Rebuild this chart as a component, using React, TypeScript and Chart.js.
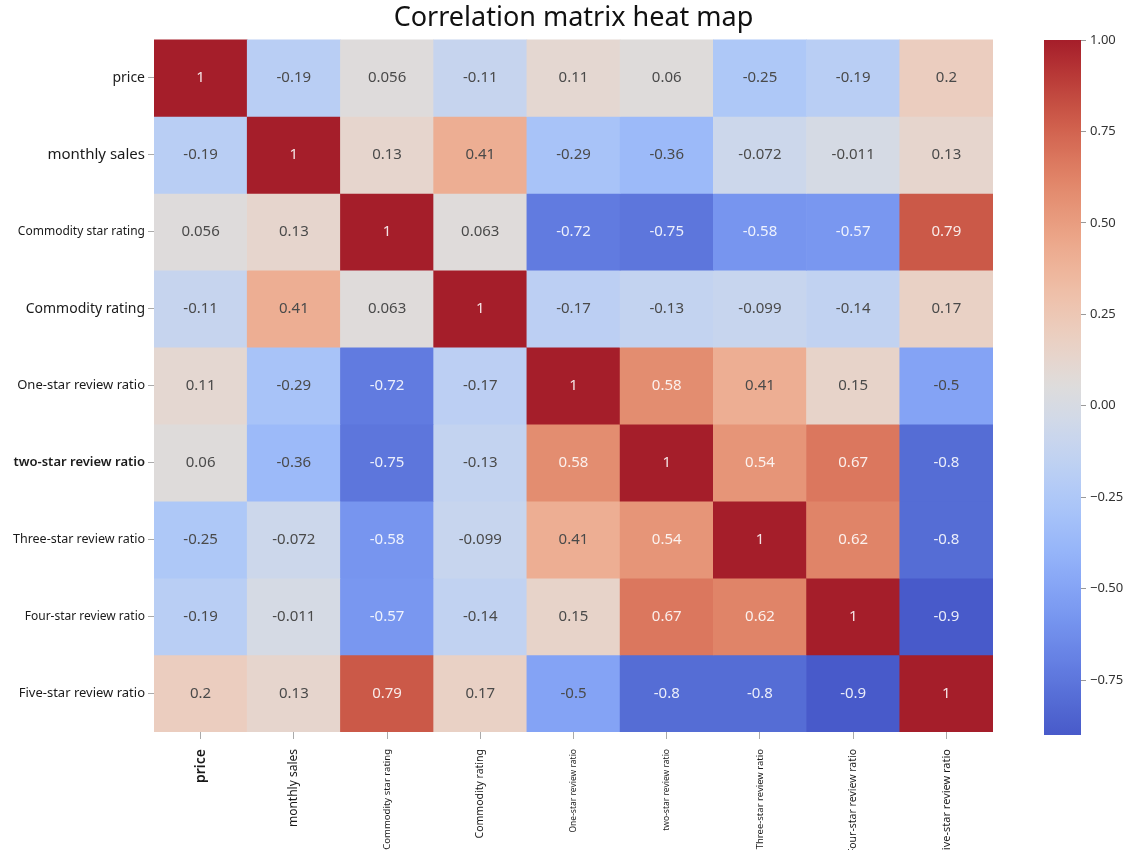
import React, { useEffect, useRef } from "react";
import { Chart, registerables } from "chart.js";

Chart.register(...registerables);

const TITLE = "Correlation matrix heat map";

const VARIABLES = [
  "price",
  "monthly sales",
  "Commodity star rating",
  "Commodity rating",
  "One-star review ratio",
  "two-star review ratio",
  "Three-star review ratio",
  "Four-star review ratio",
  "Five-star review ratio",
];

const ROW_PRICE = [1, -0.19, 0.056, -0.11, 0.11, 0.06, -0.25, -0.19, 0.2];
const ROW_MONTHLY_SALES = [-0.19, 1, 0.13, 0.41, -0.29, -0.36, -0.072, -0.011, 0.13];
const ROW_STAR_RATING = [0.056, 0.13, 1, 0.063, -0.72, -0.75, -0.58, -0.57, 0.79];
const ROW_RATING = [-0.11, 0.41, 0.063, 1, -0.17, -0.13, -0.099, -0.14, 0.17];
const ROW_ONE_STAR = [0.11, -0.29, -0.72, -0.17, 1, 0.58, 0.41, 0.15, -0.5];
const ROW_TWO_STAR = [0.06, -0.36, -0.75, -0.13, 0.58, 1, 0.54, 0.67, -0.8];
const ROW_THREE_STAR = [-0.25, -0.072, -0.58, -0.099, 0.41, 0.54, 1, 0.62, -0.8];
const ROW_FOUR_STAR = [-0.19, -0.011, -0.57, -0.14, 0.15, 0.67, 0.62, 1, -0.9];
const ROW_FIVE_STAR = [0.2, 0.13, 0.79, 0.17, -0.5, -0.8, -0.8, -0.9, 1];

const MATRIX = [
  ROW_PRICE,
  ROW_MONTHLY_SALES,
  ROW_STAR_RATING,
  ROW_RATING,
  ROW_ONE_STAR,
  ROW_TWO_STAR,
  ROW_THREE_STAR,
  ROW_FOUR_STAR,
  ROW_FIVE_STAR,
];

const COLORBAR_TICKS = [-0.75, -0.5, -0.25, 0, 0.25, 0.5, 0.75, 1.0];
const V_MIN = -0.9;
const V_MAX = 1.0;

// style settings (not data)
const FONT = '"Noto Sans", "Open Sans", sans-serif';
const Y_LABEL_SIZES = [14, 15, 12, 14, 13, 13, 12.5, 12, 13];
const X_LABEL_SIZES = [14, 12, 9.5, 10.5, 8.5, 8.5, 9.5, 10.5, 11];

// coolwarm-like palette, slightly muted as in the reference picture
const PALETTE = [
  [72, 90, 202], [80, 101, 208], [88, 112, 216], [97, 123, 224], [106, 134, 231],
  [115, 145, 237], [125, 156, 242], [135, 166, 246], [145, 176, 248], [155, 185, 249],
  [165, 193, 249], [175, 200, 247], [185, 206, 244], [195, 211, 240], [204, 215, 235],
  [213, 218, 228], [221, 220, 220], [228, 215, 209], [233, 209, 197], [236, 202, 185],
  [238, 194, 173], [238, 185, 160], [237, 175, 148], [235, 164, 135], [231, 152, 123],
  [227, 140, 111], [222, 126, 99], [215, 111, 88], [208, 96, 77], [198, 80, 67],
  [188, 63, 58], [177, 46, 50], [165, 30, 42],
];

function cmap(t: number): string {
  const tt = Math.max(0, Math.min(1, t));
  const p = tt * (PALETTE.length - 1);
  const i = Math.min(Math.floor(p), PALETTE.length - 2);
  const f = p - i;
  const a = PALETTE[i];
  const b = PALETTE[i + 1];
  const c = a.map((x, k) => Math.round(x + (b[k] - x) * f));
  return `rgb(${c[0]},${c[1]},${c[2]})`;
}

function colorOf(v: number): string {
  return cmap((v - V_MIN) / (V_MAX - V_MIN));
}

function fmt(v: number): string {
  return String(parseFloat(v.toPrecision(2)));
}

const annotatePlugin = {
  id: "annotateCells",
  afterDatasetsDraw(chart: any) {
    const ctx = chart.ctx;
    ctx.save();
    ctx.font = `15px ${FONT}`;
    ctx.textAlign = "center";
    ctx.textBaseline = "middle";
    MATRIX.forEach((row, r) => {
      const meta = chart.getDatasetMeta(r);
      row.forEach((v, c) => {
        const el = meta.data[c];
        if (!el) return;
        const cy = (el.y + el.base) / 2;
        ctx.fillStyle = Math.abs(v) >= 0.52 ? "rgba(255,255,255,0.88)" : "#4a4a4a";
        ctx.fillText(fmt(v), el.x, cy);
      });
    });
    ctx.restore();
  },
};

export default function App() {
  const mainRef = useRef<HTMLCanvasElement | null>(null);
  const barRef = useRef<HTMLCanvasElement | null>(null);

  useEffect(() => {
    const main = new Chart(mainRef.current as HTMLCanvasElement, {
      type: "bar",
      data: {
        labels: VARIABLES,
        datasets: MATRIX.map((row, r) => ({
          label: VARIABLES[r],
          data: row.map(() => 1),
          backgroundColor: row.map((v) => colorOf(v)),
          borderWidth: 0,
          barPercentage: 1,
          categoryPercentage: 1,
          stack: "cells",
        })),
      },
      options: {
        animation: false,
        responsive: false,
        devicePixelRatio: 1,
        layout: { padding: { left: 0, right: 145, top: 0, bottom: 0 } },
        plugins: {
          legend: { display: false },
          tooltip: { enabled: false },
          title: {
            display: true,
            text: TITLE,
            fullSize: false,
            color: "#111",
            font: { family: FONT, size: 27, weight: "normal" },
            padding: { top: 2, bottom: 5 },
          },
        },
        scales: {
          x: {
            type: "category",
            stacked: true,
            afterFit: (s: any) => {
              s.height = 118;
            },
            ticks: {
              maxRotation: 90,
              minRotation: 90,
              autoSkip: false,
              padding: 10,
              color: "#1a1a1a",
              font: (c: any) => ({
                family: FONT,
                size: X_LABEL_SIZES[c.index] || 10,
                weight: c.index === 0 ? "600" : "normal",
              }),
            },
            grid: { drawOnChartArea: false, offset: false, tickLength: 7, color: "#aaa" },
            border: { display: false },
          },
          y: {
            type: "linear",
            stacked: true,
            reverse: true,
            min: 0,
            max: VARIABLES.length,
            afterBuildTicks: (s: any) => {
              s.ticks = VARIABLES.map((_, i) => ({ value: i + 0.5 }));
            },
            afterFit: (s: any) => {
              s.width = 154;
            },
            ticks: {
              autoSkip: false,
              padding: 3,
              color: "#1a1a1a",
              callback: (_v: any, i: number) => VARIABLES[i],
              font: (c: any) => ({
                family: FONT,
                size: Y_LABEL_SIZES[c.index] || 13,
                weight: c.index === 5 ? "600" : "normal",
              }),
            },
            grid: { drawOnChartArea: false, tickLength: 6, color: "#aaa" },
            border: { display: false },
          },
        },
      },
      plugins: [annotatePlugin],
    } as any);

    const bar = new Chart(barRef.current as HTMLCanvasElement, {
      type: "bar",
      data: {
        labels: ["colorbar"],
        datasets: [
          {
            data: [[V_MIN, V_MAX]],
            borderWidth: 0,
            barPercentage: 1,
            categoryPercentage: 1,
            backgroundColor: (c: any) => {
              const area = c.chart.chartArea;
              if (!area) return colorOf(0);
              const g = c.chart.ctx.createLinearGradient(0, area.bottom, 0, area.top);
              const n = 64;
              for (let i = 0; i <= n; i++) g.addColorStop(i / n, cmap(i / n));
              return g;
            },
          },
        ],
      },
      options: {
        animation: false,
        responsive: false,
        devicePixelRatio: 1,
        layout: { padding: { left: 44, right: 0, top: 40, bottom: 115 } },
        plugins: { legend: { display: false }, tooltip: { enabled: false } },
        scales: {
          x: { display: false },
          y: {
            position: "right",
            min: V_MIN,
            max: V_MAX,
            afterBuildTicks: (s: any) => {
              s.ticks = COLORBAR_TICKS.map((v) => ({ value: v }));
            },
            afterFit: (s: any) => {
              s.width = 57;
            },
            ticks: {
              padding: 4,
              color: "#333",
              font: { family: FONT, size: 13 },
              callback: (v: any) => Number(v).toFixed(2).replace("-", "\u2212"),
            },
            grid: { drawOnChartArea: false, tickLength: 5, color: "#999" },
            border: { display: false },
          },
        },
      },
    } as any);

    return () => {
      main.destroy();
      bar.destroy();
    };
  }, []);

  return (
    <div
      style={{
        position: "fixed",
        left: 0,
        top: 0,
        width: 1138,
        height: 850,
        background: "#fff",
        overflow: "hidden",
      }}
    >
      <canvas
        ref={mainRef}
        width={1138}
        height={850}
        style={{ position: "absolute", left: 0, top: 0, width: 1138, height: 850 }}
      />
      <canvas
        ref={barRef}
        width={138}
        height={850}
        style={{ position: "absolute", left: 1000, top: 0, width: 138, height: 850 }}
      />
    </div>
  );
}
